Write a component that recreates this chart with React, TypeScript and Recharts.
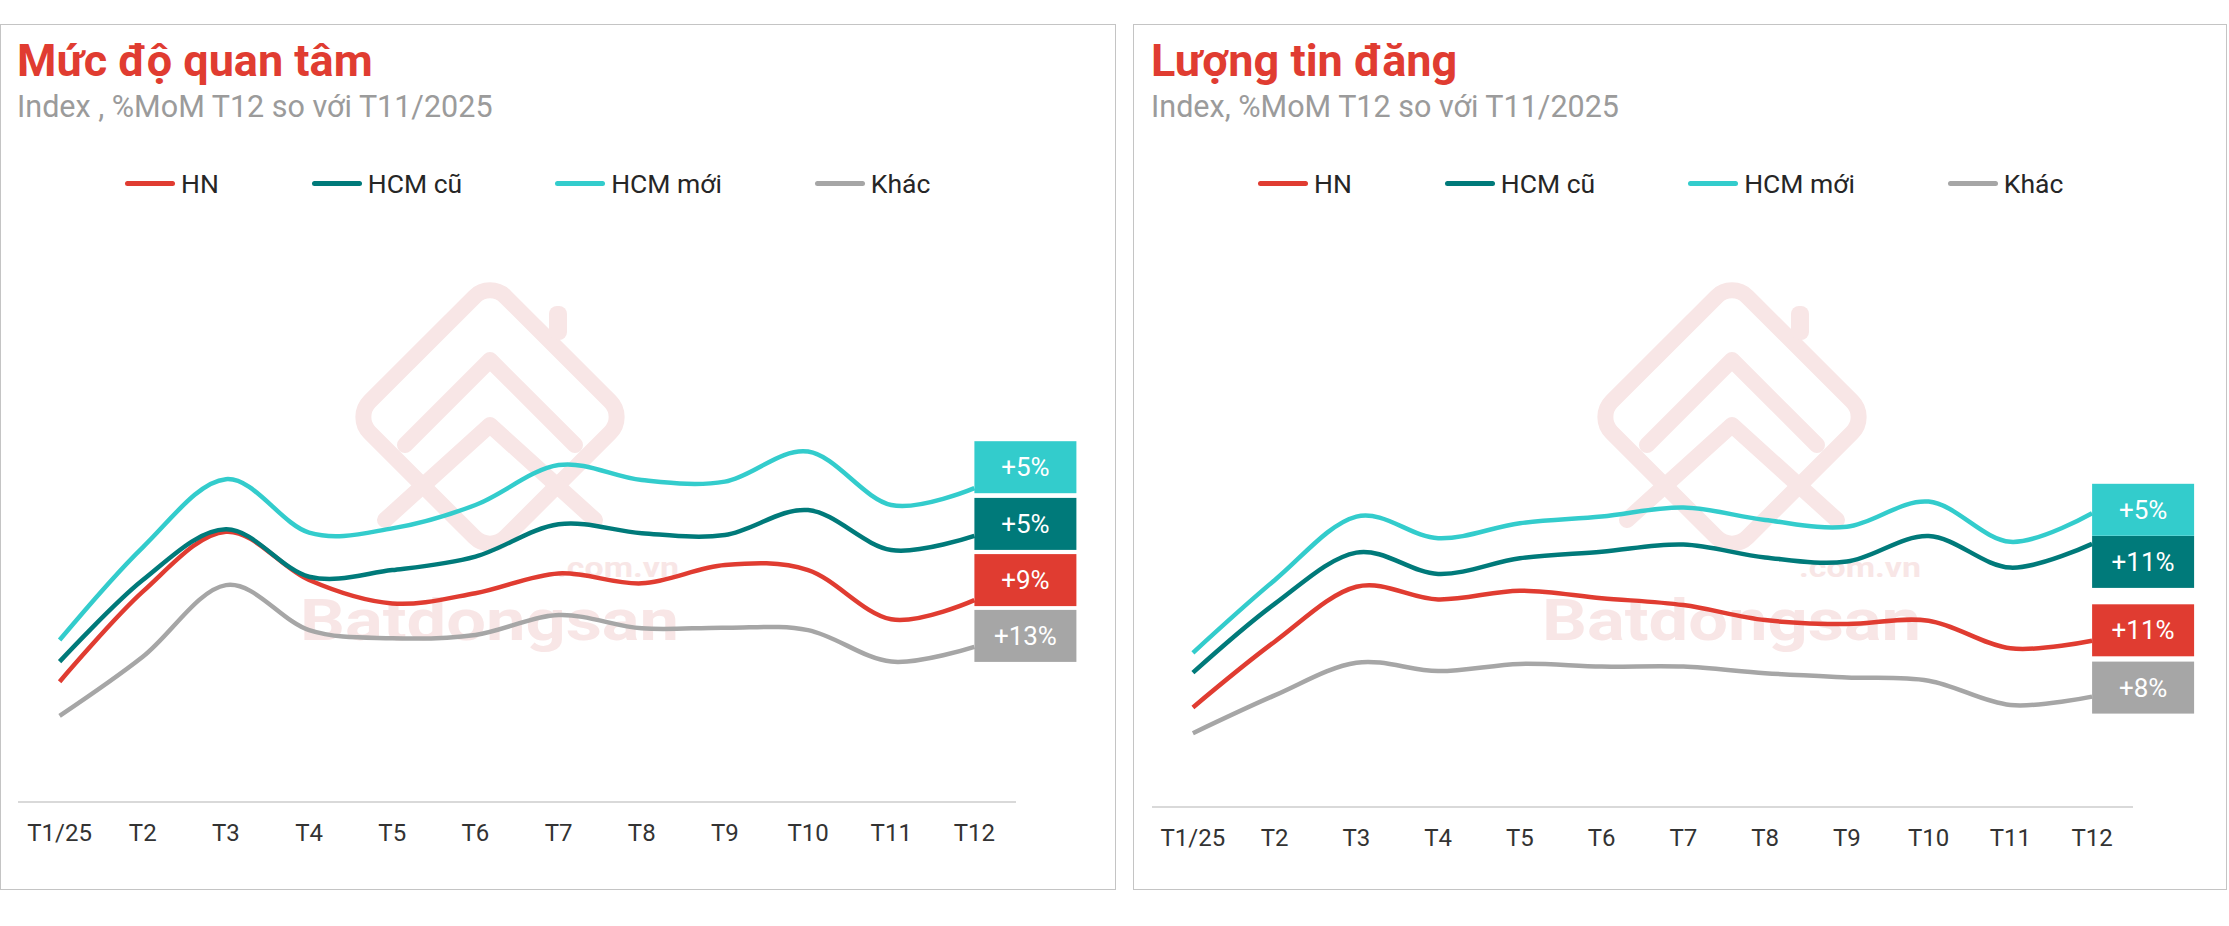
import React from 'react';
import { LineChart, Line, XAxis, YAxis, Legend, LabelList } from 'recharts';

// ---------- data ----------
const months = ['T1/25', 'T2', 'T3', 'T4', 'T5', 'T6', 'T7', 'T8', 'T9', 'T10', 'T11', 'T12'];
const seriesNames = ['HN', 'HCM cũ', 'HCM mới', 'Khác'];

// Mức độ quan tâm (index)
const interestHN = [40.1, 70.1, 90.1, 74.0, 66.2, 69.6, 76.2, 72.9, 79.0, 77.3, 60.9, 67.3];
const interestHCMOld = [46.8, 74.0, 90.9, 75.1, 77.3, 81.8, 92.6, 89.6, 89.0, 97.3, 84.0, 88.7];
const interestHCMNew = [54.0, 84.9, 107.6, 89.8, 91.2, 99.0, 112.3, 107.3, 106.8, 116.8, 99.0, 104.6];
const interestOther = [28.7, 48.4, 72.3, 57.3, 54.6, 55.7, 62.3, 57.9, 58.1, 57.3, 46.8, 51.7];
const interestChange = ['+9%', '+5%', '+5%', '+13%'];

// Lượng tin đăng (index)
const postsHN = [33.2, 55.1, 73.4, 69.2, 72.1, 69.6, 67.3, 62.3, 61.0, 62.1, 52.9, 55.4];
const postsHCMOld = [44.8, 67.7, 84.8, 77.7, 82.9, 85.1, 87.5, 83.2, 81.8, 90.3, 79.8, 87.7];
const postsHCMNew = [51.4, 75.6, 96.8, 89.6, 94.6, 96.8, 99.8, 95.7, 93.4, 101.8, 88.4, 97.9];
const postsOther = [24.6, 37.2, 48.1, 45.3, 47.7, 46.8, 46.8, 44.6, 43.2, 42.1, 34.0, 36.8];
const postsChange = ['+11%', '+11%', '+5%', '+8%'];

// ---------- styles ----------
const COLORS = ['#E03C31', '#007A7A', '#33CCCC', '#A6A6A6'];
const KEYS = ['hn', 'hcmOld', 'hcmNew', 'other'];
const FONT = 'Roboto, "Noto Sans", sans-serif';
const leftBoxShift = [-20, -12, -21, -11];
const rightBoxShift = [-10.5, 18, -3.5, -9];

const buildRows = (a: number[], b: number[], c: number[], d: number[]) =>
  months.map((m, i) => ({ month: m, hn: a[i], hcmOld: b[i], hcmNew: c[i], other: d[i] }));

const interestRows = buildRows(interestHN, interestHCMOld, interestHCMNew, interestOther);
const postsRows = buildRows(postsHN, postsHCMOld, postsHCMNew, postsOther);

// Catmull-Rom (cardinal, tension 0) curve factory, like spreadsheet smoothed lines
function smoothCurve(context: any) {
  const k = 1 / 6;
  let x0 = NaN, y0 = NaN, x1 = NaN, y1 = NaN, x2 = NaN, y2 = NaN, pt = 0;
  const bez = (x: number, y: number) =>
    context.bezierCurveTo(x1 + k * (x2 - x0), y1 + k * (y2 - y0), x2 + k * (x1 - x), y2 + k * (y1 - y), x2, y2);
  return {
    areaStart() {},
    areaEnd() {},
    lineStart() {
      x0 = x1 = x2 = y0 = y1 = y2 = NaN;
      pt = 0;
    },
    lineEnd() {
      if (pt === 2) context.lineTo(x2, y2);
      else if (pt === 3) bez(x1, y1);
    },
    point(x: number, y: number) {
      x = +x;
      y = +y;
      switch (pt) {
        case 0:
          pt = 1;
          context.moveTo(x, y);
          break;
        case 1:
          pt = 2;
          x1 = x;
          y1 = y;
          break;
        case 2:
          pt = 3;
          bez(x, y);
          break;
        default:
          bez(x, y);
          break;
      }
      x0 = x1; x1 = x2; x2 = x;
      y0 = y1; y1 = y2; y2 = y;
    },
  };
}

const renderLegend = (props: any) => {
  const items = [...(props.payload || [])].sort(
    (a: any, b: any) => seriesNames.indexOf(a.value) - seriesNames.indexOf(b.value)
  );
  return (
    <div style={{ display: 'flex', alignItems: 'center', fontFamily: FONT, fontSize: 26.5, color: '#262626', whiteSpace: 'nowrap' }}>
      {items.map((p: any, i: number) => (
        <div key={i} style={{ display: 'flex', alignItems: 'center', marginRight: 93 }}>
          <span style={{ display: 'inline-block', width: 50, height: 5, borderRadius: 3, background: p.color, marginRight: 6 }} />
          <span>{p.value}</span>
        </div>
      ))}
    </div>
  );
};

const makeBox = (color: string, text: string, shift: number, lastIndex: number) => (props: any) => {
  const { x, y, index } = props;
  if (index !== lastIndex) return null;
  const cy = Number(y) + shift;
  return (
    <g>
      <rect x={Number(x)} y={cy - 26} width={102} height={52} fill={color} />
      <text x={Number(x) + 51} y={cy} fill="#FFFFFF" fontSize={26} fontFamily={FONT} textAnchor="middle" dominantBaseline="central">
        {text}
      </text>
    </g>
  );
};

type PanelProps = {
  rows: any[];
  changes: string[];
  shifts: number[];
  left: number;
  width: number;
  margin: { top: number; right: number; bottom: number; left: number };
  pad: number;
};

const ChartBlock = ({ rows, changes, shifts, left, width, margin, pad }: PanelProps) => (
  <div style={{ position: 'absolute', left, top: 0, width, height: 890 }}>
    <LineChart width={width} height={890} data={rows} margin={margin}>
      <XAxis
        dataKey="month"
        interval={0}
        padding={{ left: pad, right: pad }}
        tickLine={false}
        tickSize={0}
        tickMargin={22}
        height={60}
        axisLine={{ stroke: '#D9D9D9', strokeWidth: 2 }}
        tick={{ fontSize: 24, fill: '#333333', fontFamily: FONT }}
      />
      <YAxis hide domain={[0, 120]} />
      <Legend content={renderLegend} verticalAlign="middle" align="center" wrapperStyle={{ left: 125, top: 168 }} />
      {KEYS.map((k, i) => (
        <Line
          key={k}
          dataKey={k}
          name={seriesNames[i]}
          stroke={COLORS[i]}
          strokeWidth={4.5}
          type={smoothCurve as any}
          dot={false}
          activeDot={false}
          isAnimationActive={false}
        >
          <LabelList dataKey={k} content={makeBox(COLORS[i], changes[i], shifts[i], rows.length - 1)} />
        </Line>
      ))}
    </LineChart>
  </div>
);

const Watermark = ({ dx }: { dx: number }) => {
  const pink = '#F8E6E6';
  return (
    <g transform={`translate(${dx},0)`}>
      <rect x={490 - 96} y={417 - 96} width={192} height={192} rx={22} fill="none" stroke={pink} strokeWidth={16} transform="rotate(45 490 417)" />
      <rect x={549} y={306} width={18} height={34} rx={8} fill={pink} />
      <polyline points="405,445 490,360 575,445" fill="none" stroke={pink} strokeWidth={16} strokeLinejoin="round" strokeLinecap="round" />
      <polyline points="385,520 490,425 595,520" fill="none" stroke={pink} strokeWidth={16} strokeLinejoin="round" strokeLinecap="round" />
      <text x={679} y={577} fontSize={28} fontWeight={700} fill={pink} fontFamily={FONT} textAnchor="end" textLength={122} lengthAdjust="spacingAndGlyphs">
        .com.vn
      </text>
      <text x={300} y={640} fontSize={58} fontWeight={700} fill={pink} fontFamily={FONT} textLength={379} lengthAdjust="spacingAndGlyphs">
        Batdongsan
      </text>
    </g>
  );
};

const titleStyle: React.CSSProperties = {
  position: 'absolute',
  top: 38,
  fontFamily: FONT,
  fontWeight: 700,
  fontSize: 45,
  lineHeight: '45px',
  color: '#E03C31',
  whiteSpace: 'nowrap',
};
const subStyle: React.CSSProperties = {
  position: 'absolute',
  top: 92,
  fontFamily: FONT,
  fontSize: 30.5,
  lineHeight: '30px',
  color: '#9B9B9B',
  whiteSpace: 'nowrap',
};

export default function App() {
  return (
    <div style={{ position: 'absolute', left: 0, top: 0, width: 2229, height: 926, background: '#FFFFFF', overflow: 'hidden' }}>
      <div style={{ position: 'absolute', left: 0, top: 24, width: 1114, height: 864, border: '1px solid #C4C4C4' }} />
      <div style={{ position: 'absolute', left: 1133, top: 24, width: 1092, height: 864, border: '1px solid #C4C4C4' }} />
      <svg width={2229} height={926} style={{ position: 'absolute', left: 0, top: 0 }}>
        <Watermark dx={0} />
        <Watermark dx={1242} />
      </svg>
      <div style={{ ...titleStyle, left: 17 }}>Mức độ quan tâm</div>
      <div style={{ ...subStyle, left: 17 }}>Index , %MoM T12 so với T11/2025</div>
      <div style={{ ...titleStyle, left: 1151 }}>Lượng tin đăng</div>
      <div style={{ ...subStyle, left: 1151 }}>Index, %MoM T12 so với T11/2025</div>
      <ChartBlock
        rows={interestRows}
        changes={interestChange}
        shifts={leftBoxShift}
        left={0}
        width={1116}
        margin={{ top: 442, right: 100, bottom: 28, left: 18 }}
        pad={41.6}
      />
      <ChartBlock
        rows={postsRows}
        changes={postsChange}
        shifts={rightBoxShift}
        left={1133}
        width={1093}
        margin={{ top: 447, right: 93, bottom: 23, left: 19 }}
        pad={40.9}
      />
    </div>
  );
}
